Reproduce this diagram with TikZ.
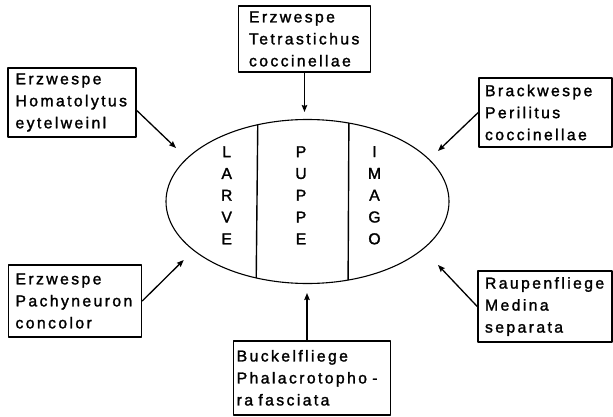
\documentclass[tikz,border=0pt]{standalone}
\usepackage{fontspec}
\setmainfont{Liberation Sans}[LetterSpace=15,FakeBold=1.6]
\usetikzlibrary{arrows.meta}

\tikzset{
  box/.style={draw,line width=1.5pt,align=left,inner ysep=0pt,
    font=\fontsize{15.8}{22}\selectfont},
  arr/.style={line width=1.3pt,-{Stealth[length=7pt,width=5.5pt,inset=1pt]}},
  stage/.style={align=center,inner sep=0pt,font=\fontsize{15.8}{21.8}\selectfont}
}

\begin{document}
\begin{tikzpicture}[x=1pt,y=-1pt,line cap=round,line join=round]
\useasboundingbox (0,0) rectangle (613,417);
% the egg with its three stages
\draw[line width=1.1pt] (307.5,201.5) ellipse [x radius=141.5,y radius=82];
\begin{scope}
\clip (307.5,201.5) ellipse [x radius=141.5,y radius=82];
\draw[line width=1.4pt]
(258,100) -- (256,300)
(349,100) -- (348,300);
\end{scope}
\node[stage] (larve) at (226.7,195.3) {L\\A\\R\\V\\E};
\node[stage] (puppe) at (301,195.3) {P\\U\\P\\P\\E};
\node[stage] (imago) at (374.5,195.3) {I\\M\\A\\G\\O};
% parasites
\node[box,text width=111pt,inner xsep=10.5pt,minimum height=66pt] (tetra) at (304.5,39) {Erzwespe\\Tetrastichus\\coccinellae};
\node[box,text width=113pt,inner xsep=7.5pt,minimum height=69pt] (homa) at (72,102.5) {Erzwespe\\Homatolytus\\eytelweinl};
\node[box,text width=121pt,inner xsep=6pt,minimum height=69pt] (peri) at (545.5,112.5) {Brackwespe\\Perilitus\\coccinellae};
\node[box,text width=119pt,inner xsep=7pt,minimum height=72pt] (pachy) at (75,301) {Erzwespe\\Pachyneuron\\concolor};
\node[box,text width=120pt,inner xsep=7pt,minimum height=71pt] (medina) at (545,306.5) {Raupenfliege\\Medina\\separata};
\node[box,text width=151pt,inner xsep=3pt,minimum height=74pt] (phala) at (312.2,377.8) {Buckelfliege\\Phalacrotopho -\\ra fasciata};
% arrow tips
\coordinate (tipT) at (304.5,112);
\coordinate (tipTL) at (176,148);
\coordinate (tipTR) at (438,151);
\coordinate (tipBL) at (183.7,260);
\coordinate (tipBR) at (438,265);
\coordinate (tipB) at (307,293);
\draw[arr] (tetra.south) -- (tipT);
\draw[arr] (homa.-7) -- (tipTL);
\draw[arr] (peri.west) -- (tipTR);
\draw[arr] (pachy.east) -- (tipBL);
\draw[arr] (medina.west) -- (tipBR);
\draw[arr] (phala.north -| tipB) -- (tipB);
\end{tikzpicture}
\end{document}
